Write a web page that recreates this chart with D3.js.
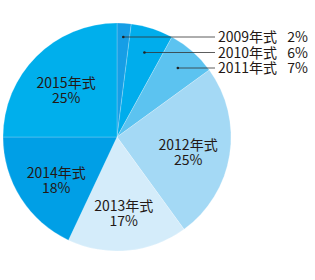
<!DOCTYPE html>
<html>
<head>
<meta charset="utf-8">
<script src="https://cdn.jsdelivr.net/npm/d3@7"></script>
<style>
  body { margin: 0; background: #fff; }
  svg text { font-family: "Noto Sans CJK JP", "Noto Sans", sans-serif; fill: #231815; }
</style>
</head>
<body>
<svg id="chart" width="315" height="280"></svg>
<script>
// data, clockwise from 12 o'clock
var years = ["2009年式", "2010年式", "2011年式", "2012年式", "2013年式", "2014年式", "2015年式"];
var shares = [2, 6, 7, 25, 17, 18, 25];
var colors = ["#169ee6", "#00adec", "#5cc3f0", "#a4d9f5", "#d4ecfa", "#009fe6", "#00afec"];
// small slices get a leader line and a label on the right
var outside = [true, true, true, false, false, false, false];

var svg = d3.select("#chart");
var cx = 117, cy = 137, radius = 114;
var fontSize = 14;

var data = years.map(function(y, i) {
    return { year: y, share: shares[i], color: colors[i], outside: outside[i] };
});

var pie = d3.pie().sort(null).value(function(d) { return d.share; });
var arcs = pie(data);
var arc = d3.arc().innerRadius(0).outerRadius(radius);
var labelArc = d3.arc().innerRadius(72).outerRadius(72);

var g = svg.append("g").attr("transform", "translate(" + cx + "," + cy + ")");

g.selectAll("path.slice")
    .data(arcs)
  .enter().append("path")
    .attr("class", "slice")
    .attr("d", arc)
    .attr("fill", function(d) { return d.data.color; })
    .attr("stroke", "rgba(255,255,255,0.35)")
    .attr("stroke-width", 0.6);

// inside labels, two lines each
arcs.filter(function(d) { return !d.data.outside; }).forEach(function(d) {
    var c = labelArc.centroid(d);
    g.append("text")
        .attr("x", c[0]).attr("y", c[1] + 2)
        .attr("text-anchor", "middle")
        .attr("font-size", fontSize)
        .text(d.data.year);
    g.append("text")
        .attr("x", c[0]).attr("y", c[1] + 17)
        .attr("text-anchor", "middle")
        .attr("font-size", fontSize)
        .text(d.data.share + "%");
});

// outside labels with leader lines
var rowY = d3.scalePoint()
    .domain(arcs.filter(function(d) { return d.data.outside; }).map(function(d) { return d.data.year; }))
    .range([37, 68]);
var lineEnd = 215, textX = 218, pctX = 308;

arcs.filter(function(d) { return d.data.outside; }).forEach(function(d) {
    var mid = (d.startAngle + d.endAngle) / 2;
    var y = rowY(d.data.year);
    var x = cx + (cy - y) * Math.tan(mid);
    svg.append("line")
        .attr("x1", x).attr("y1", y)
        .attr("x2", lineEnd).attr("y2", y)
        .attr("stroke", "#333")
        .attr("stroke-width", 0.8);
    svg.append("circle")
        .attr("cx", x).attr("cy", y).attr("r", 1.3)
        .attr("fill", "#222");
    svg.append("text")
        .attr("x", textX).attr("y", y + 5)
        .attr("font-size", fontSize)
        .text(d.data.year);
    svg.append("text")
        .attr("x", pctX).attr("y", y + 5)
        .attr("font-size", fontSize)
        .attr("text-anchor", "end")
        .text(d.data.share + "%");
});
</script>
</body>
</html>
